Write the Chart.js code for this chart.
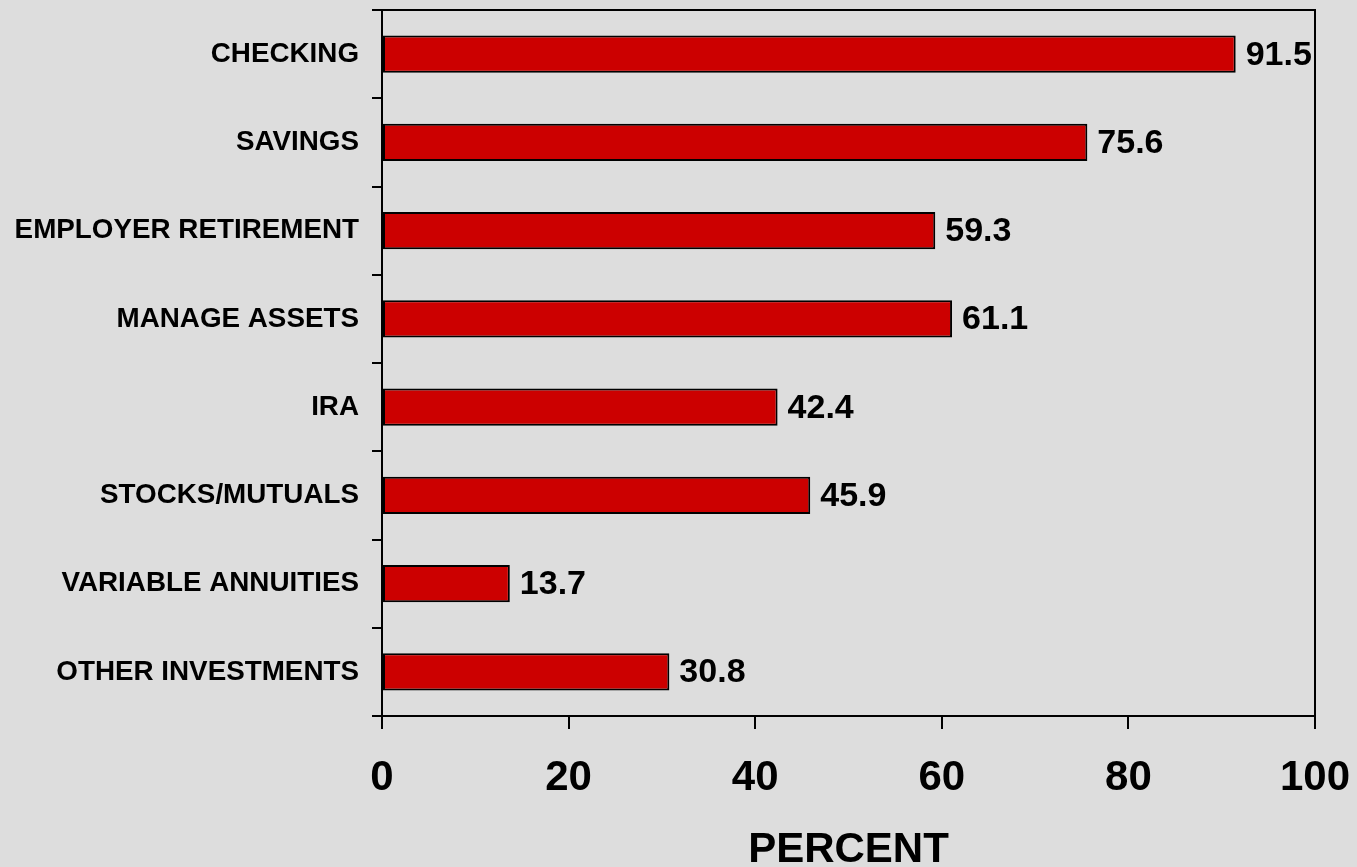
<!DOCTYPE html>
<html>
<head>
<meta charset="utf-8">
<title>Percent by account type</title>
<script src="https://cdn.jsdelivr.net/npm/chart.js@4.4.1/dist/chart.umd.min.js"></script>
<style>
  html, body { margin: 0; padding: 0; background: #dddddd; }
  #wrap { width: 1357px; height: 867px; }
</style>
</head>
<body>
<div id="wrap"><canvas id="chart" width="1357" height="867"></canvas></div>
<script>
/* ================================
   DADOS
================================ */
const categories = [
  'CHECKING',
  'SAVINGS',
  'EMPLOYER RETIREMENT',
  'MANAGE ASSETS',
  'IRA',
  'STOCKS/MUTUALS',
  'VARIABLE ANNUITIES',
  'OTHER INVESTMENTS'
];
const percentValues = [91.5, 75.6, 59.3, 61.1, 42.4, 45.9, 13.7, 30.8];
const xTicks = [0, 20, 40, 60, 80, 100];
const axisTitle = 'PERCENT';

const FONT = "'Liberation Sans', Arial, Helvetica, sans-serif";

/* ================================
   PLUGINS
================================ */

// Moldura superior e direita da área do gráfico
const framePlugin = {
  id: 'frame',
  afterDraw(chart) {
    const { ctx, chartArea: a } = chart;
    ctx.save();
    ctx.strokeStyle = '#000';
    ctx.lineWidth = 2;
    ctx.beginPath();
    ctx.moveTo(a.left, a.top);
    ctx.lineTo(a.right, a.top);
    ctx.lineTo(a.right, a.bottom);
    ctx.stroke();
    ctx.restore();
  }
};

// Rótulos de valor à direita de cada barra
const valueLabels = {
  id: 'valueLabels',
  afterDatasetsDraw(chart) {
    const { ctx } = chart;
    const meta = chart.getDatasetMeta(0);
    ctx.save();
    ctx.font = `bold 34px ${FONT}`;
    ctx.fillStyle = '#000';
    ctx.textAlign = 'left';
    ctx.textBaseline = 'middle';
    meta.data.forEach((bar, i) => {
      ctx.fillText(percentValues[i].toFixed(1), bar.x + 10, bar.y + 1);
    });
    ctx.restore();
  }
};

/* ================================
   GRÁFICO
================================ */
const ctx = document.getElementById('chart').getContext('2d');
new Chart(ctx, {
  type: 'bar',
  data: {
    labels: categories,
    datasets: [{
      data: percentValues,
      backgroundColor: '#cc0000',
      borderColor: '#000',
      borderWidth: 2,
      borderSkipped: false,
      categoryPercentage: 0.84,
      barPercentage: 0.5
    }]
  },
  options: {
    indexAxis: 'y',
    responsive: false,
    animation: false,
    layout: { padding: { top: 10, right: 42, bottom: 0, left: 0 } },
    plugins: {
      legend: { display: false },
      tooltip: { enabled: false }
    },
    scales: {
      x: {
        min: 0,
        max: 100,
        afterBuildTicks: (scale) => { scale.ticks = xTicks.map(v => ({ value: v })); },
        afterFit: (scale) => {
          scale.height = 151;
          scale.paddingLeft = 0;
          scale.paddingRight = 0;
        },
        grid: { display: true, drawOnChartArea: false, color: '#000', lineWidth: 2, tickLength: 13 },
        border: { display: true, color: '#000', width: 2 },
        ticks: {
          color: '#000',
          padding: 24,
          maxRotation: 0,
          font: { family: FONT, size: 42, weight: 'bold', lineHeight: 1.2 }
        },
        title: {
          display: true,
          text: axisTitle,
          color: '#000',
          padding: { top: 0, bottom: -4 },
          font: { family: FONT, size: 42, weight: 'bold', lineHeight: 1 }
        }
      },
      y: {
        afterFit: (scale) => {
          scale.width = 382;
          scale.paddingTop = 0;
          scale.paddingBottom = 0;
        },
        grid: { display: true, drawOnChartArea: false, offset: true, color: '#000', lineWidth: 2, tickLength: 10 },
        border: { display: true, color: '#000', width: 2 },
        ticks: {
          color: '#000',
          padding: 13,
          autoSkip: false,
          font: { family: FONT, size: 27.8, weight: 'bold' }
        }
      }
    }
  },
  plugins: [framePlugin, valueLabels]
});
</script>
</body>
</html>
